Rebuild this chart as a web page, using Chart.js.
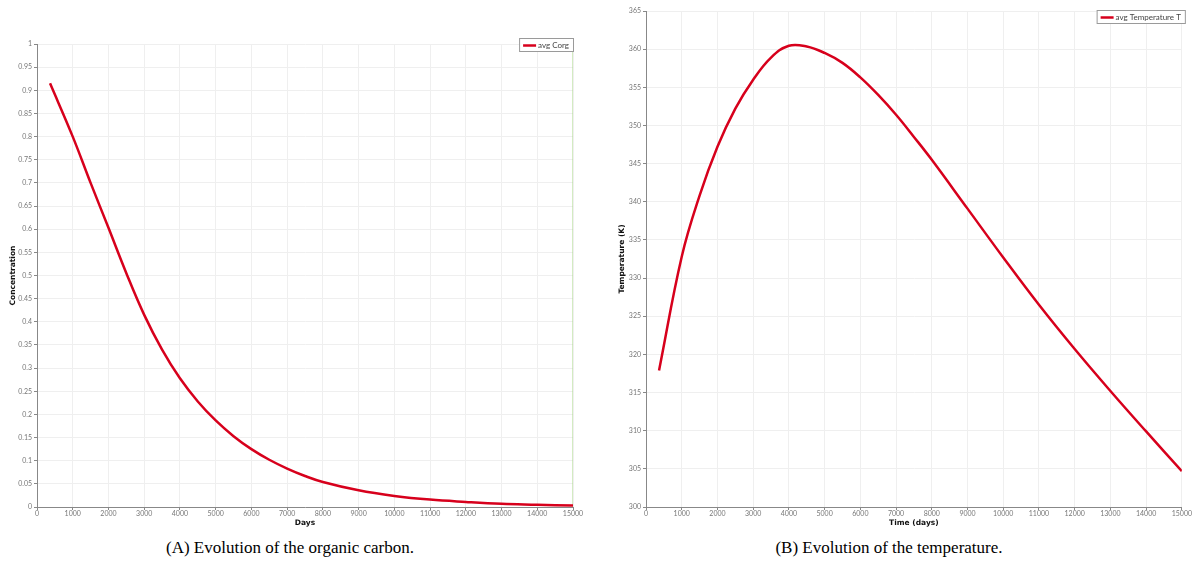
<!DOCTYPE html>
<html>
<head>
<meta charset="utf-8">
<script src="https://cdn.jsdelivr.net/npm/chart.js@4.4.1/dist/chart.umd.min.js"></script>
<style>
body { margin: 0; background: #fff; width: 1192px; height: 567px; overflow: hidden; position: relative; }
.box { position: absolute; top: 0; width: 596px; height: 530px; }
.cap { position: absolute; top: 538px; font-family: "Liberation Serif", "DejaVu Serif", serif; font-size: 17px; color: #000; white-space: nowrap; transform: translateX(-50%); }
</style>
</head>
<body>
<div class="box" style="left:0"><canvas id="chartA"></canvas></div>
<div class="box" style="left:596px"><canvas id="chartB"></canvas></div>
<div class="cap" style="left:290px">(A) Evolution of the organic carbon.</div>
<div class="cap" style="left:889px">(B) Evolution of the temperature.</div>

<script>
// organic carbon (left plot)
var carbonDays = [365, 1000, 1500, 2000, 2500, 3000, 3500, 4000, 4500, 5000, 5500, 6000, 6500, 7000, 7500, 8000, 9000, 10000, 11000, 12000, 13000, 14000, 15000]
var carbonConc = [0.915, 0.80, 0.70, 0.603, 0.505, 0.415, 0.34, 0.278, 0.228, 0.187, 0.153, 0.125, 0.102, 0.083, 0.067, 0.054, 0.036, 0.024, 0.016, 0.011, 0.007, 0.005, 0.003]
var markerDay = [15000, 15000]
var markerY = [0, 1]

// temperature (right plot)
var tempDays = [365, 1000, 1500, 2000, 2500, 3000, 3500, 4000, 4500, 5000, 5500, 6000, 6500, 7000, 7500, 8000, 9000, 10000, 11000, 12000, 13000, 14000, 15000]
var tempK = [317.9, 332.8, 340.8, 347.2, 352.2, 356.0, 358.9, 360.45, 360.35, 359.5, 358.2, 356.3, 354.0, 351.4, 348.5, 345.5, 339.1, 332.7, 326.5, 320.7, 315.2, 309.9, 304.7]

var tickFont = { family: "Lato, 'DejaVu Sans', sans-serif", size: 7 }
var titleFont = { family: "'DejaVu Sans', sans-serif", size: 7.5, weight: 'bold' }

const toPoints = (xs, ys) => xs.map((x, i) => ({ x: x, y: ys[i] }))

// legend drawn as a small framed box like the original
const boxLegend = {
    id: 'boxLegend',
    afterDraw: function (chart, args, opts) {
        const ctx = chart.ctx
        const ds = chart.data.datasets[0]
        ctx.save()
        ctx.font = "8px Lato, 'DejaVu Sans', sans-serif"
        const w = ctx.measureText(ds.label).width + 24
        const h = 14
        const x = chart.chartArea.right + opts.dx - w
        const y = chart.chartArea.top + opts.dy
        ctx.fillStyle = '#fff'
        ctx.fillRect(x, y, w, h)
        ctx.strokeStyle = '#9a9a9a'
        ctx.lineWidth = 1
        ctx.strokeRect(x + 0.5, y + 0.5, w - 1, h - 1)
        ctx.strokeStyle = ds.borderColor
        ctx.lineWidth = 2.5
        ctx.beginPath()
        ctx.moveTo(x + 4, y + h / 2 + 0.5)
        ctx.lineTo(x + 17, y + h / 2 + 0.5)
        ctx.stroke()
        ctx.fillStyle = '#444'
        ctx.textBaseline = 'middle'
        ctx.fillText(ds.label, x + 19, y + h / 2 + 0.5)
        ctx.restore()
    }
}

function axes(xTitle, yTitle, ymin, ymax, ystep, yw, ytp, fmt) {
    return {
        x: {
            type: 'linear', min: 0, max: 15000,
            afterFit: function (s) { s.height = 23 },
            ticks: { stepSize: 1000, font: tickFont, color: '#777', padding: 0, maxRotation: 0, autoSkip: false, callback: function (v) { return String(v) } },
            grid: { color: '#efefef', tickColor: '#888', tickLength: 3 },
            border: { color: '#888' },
            title: { display: true, text: xTitle, font: titleFont, color: '#111', padding: { top: 0, bottom: 2.5 } }
        },
        y: {
            min: ymin, max: ymax,
            afterFit: function (s) { s.width = yw },
            ticks: { stepSize: ystep, font: tickFont, color: '#777', padding: 2, autoSkip: false, callback: fmt },
            grid: { color: '#efefef', tickColor: '#888', tickLength: 3 },
            border: { color: '#888' },
            title: { display: true, text: yTitle, font: titleFont, color: '#111', padding: { top: ytp, bottom: 0 } }
        }
    }
}

new Chart(document.getElementById('chartA'), {
    type: 'line',
    data: {
        datasets: [{
            label: 'avg Corg',
            data: toPoints(carbonDays, carbonConc),
            borderColor: '#d7001c',
            borderWidth: 2.5,
            pointRadius: 0,
            tension: 0.4
        }, {
            label: 'time',
            data: toPoints(markerDay, markerY),
            borderColor: '#a6d785',
            borderWidth: 1,
            pointRadius: 0
        }]
    },
    options: {
        responsive: true,
        maintainAspectRatio: false,
        animation: false,
        layout: { padding: { top: 44, right: 23, left: 0, bottom: 0 } },
        plugins: { legend: { display: false }, tooltip: { enabled: false }, boxLegend: { dx: 1, dy: -6 } },
        scales: axes('Days', 'Concentration', 0, 1, 0.05, 37, 8.5, function (v) { return String(Number(v.toFixed(2))) })
    },
    plugins: [boxLegend]
})

new Chart(document.getElementById('chartB'), {
    type: 'line',
    data: {
        datasets: [{
            label: 'avg Temperature T',
            data: toPoints(tempDays, tempK),
            borderColor: '#d7001c',
            borderWidth: 2.5,
            pointRadius: 0,
            tension: 0.4
        }]
    },
    options: {
        responsive: true,
        maintainAspectRatio: false,
        animation: false,
        layout: { padding: { top: 11, right: 10, left: 0, bottom: 0 } },
        plugins: { legend: { display: false }, tooltip: { enabled: false }, boxLegend: { dx: 4, dy: -1 } },
        scales: axes('Time (days)', 'Temperature (K)', 300, 365, 5, 50, 21.5, function (v) { return String(v) })
    },
    plugins: [boxLegend]
})
</script>
</body>
</html>
